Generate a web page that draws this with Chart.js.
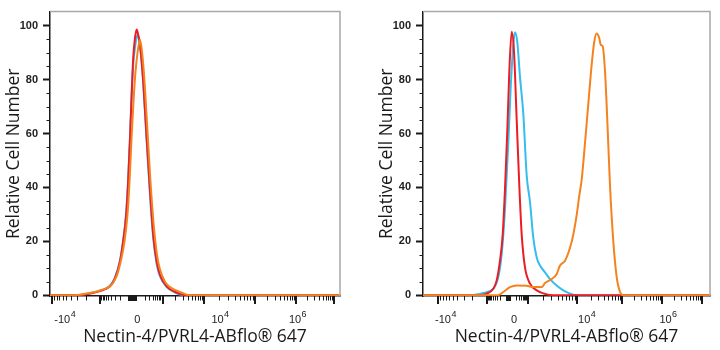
<!DOCTYPE html>
<html>
<head>
<meta charset="utf-8">
<script src="https://cdn.jsdelivr.net/npm/chart.js@4/dist/chart.umd.min.js"></script>
<style>
  html, body { margin: 0; padding: 0; background: #fff; }
  #wrap { display: flex; width: 720px; height: 350px; }
  .panel { position: relative; width: 360px; height: 350px; }
</style>
</head>
<body>
<div id="wrap">
  <div class="panel"><canvas id="left"></canvas></div>
  <div class="panel"><canvas id="right"></canvas></div>
</div>
<script>
// x values are display channels on the biexponential axis, y is relative cell number
const xTitle = 'Nectin-4/PVRL4-ABflo\u00AE 647';
const yTitle = 'Relative Cell Number';

const yTicks = [0, 20, 40, 60, 80, 100];
const yMinorTicks = [5, 10, 15, 25, 30, 35, 45, 50, 55, 65, 70, 75, 85, 90, 95];

// tick labels: base and exponent ( -10^4, 0, 10^4, 10^6 )
const xTickBase = ['-10', '0', '10', '10'];
const xTickExp = ['4', '', '4', '6'];

// left panel axis
const leftRange = [0, 290];
const leftLabelPos = [14.7, 87.3, 170, 247.5];
const leftMajor = [2, 50, 113, 154, 205, 246, 284];
const leftZeroBand = [78, 87];

// right panel axis
const rightRange = [0, 287];
const rightLabelPos = [22.5, 91, 163.7, 245];
const rightMajor = [15, 64, 105, 154, 199, 239, 279];
const rightZeroBand = [83, 88];

// left panel: all three overlap
const leftRed = [[0,0],[30,0],[40,0.6],[50,1.5],[60,3.3],[65,6.2],[70,12.5],[73,19.5],[76,29],[78,41],[80,58],[81.7,75],[83.2,88],[85,95.5],[86.7,98.7],[88,97],[90,93],[93.3,79],[96.7,58],[100,39],[103.3,22],[106.7,12.5],[110,7.5],[116.7,3.3],[126.7,1],[136,0],[290,0]];
const leftBlue = [[0,0],[28,0],[38,0.6],[50,1.7],[60,3.5],[65,6.6],[70,13],[73,20],[76,30],[78,42],[80,59],[81.7,75],[83.3,86],[85,92],[86.5,95.5],[87.7,96.6],[89,95],[91,89],[93.5,77],[96.7,57],[100,37],[103.3,21],[106.7,11.5],[110,7],[116.7,3],[125,1],[134,0],[290,0]];
const leftOrange = [[0,0],[25,0],[35,0.5],[45,1.2],[52,2],[60,3.3],[66,6.5],[71,13],[74.5,20],[77.5,30],[79.5,42],[81.5,58],[83.5,72],[85.5,83],[87.5,90],[89,93.5],[90,94.8],[91.5,92],[94,82],[97,64],[100,45],[103.5,27],[107,15],[110,9.5],[115,5],[120,3],[130,1.2],[140,0],[290,0]];

// right panel
const rightRed = [[0,0],[52,0],[63.7,0.6],[70.3,2.4],[73.7,5.5],[77,12.8],[79.7,22.5],[82,39.5],[84.3,61],[86.3,83],[88.7,97.8],[91,90.5],[93.7,65],[96.3,40.7],[98.7,22.5],[102,10.3],[107,4.3],[113.7,1.8],[123.7,0.3],[130,0],[287,0]];
const rightBlue = [[0,0],[48,0],[60.3,0.8],[70.3,2.4],[75.3,6.7],[78.7,15.2],[82,32],[85.3,56.5],[87.7,77],[90.3,93],[92,97.6],[94.3,94],[97,81],[100.3,67.4],[103.7,44.4],[107,34.6],[110.3,21.3],[113.7,14],[117,11],[122,8.5],[127,6],[133.7,3.6],[140.3,1.8],[147,0.6],[153.7,0],[287,0]];
const rightOrange = [[0,0],[75,0],[80.3,1.2],[87,3],[93.7,3.6],[103.7,3.5],[110.3,3],[118.7,3],[122,4.5],[128.7,6],[133.7,7.9],[137,11],[142,12.8],[147,17.6],[150.3,22.5],[153.7,29.8],[156.3,37],[158.7,43],[162,56.5],[165.3,71],[168.7,85.7],[171.3,94.2],[173.7,97.2],[176.3,95.4],[177.7,93],[179.7,92.4],[182,83.2],[184.3,65],[187,40.7],[190.3,20],[193.7,6.7],[197,1.2],[200.3,0],[287,0]];

const colors = { red: '#ec1c24', blue: '#35bdee', orange: '#f5821f' };
const AXIS = '#1a1a1a';
const TICK_FAMILY = '"Liberation Sans", Arial, sans-serif';
const FONT_YTICK = { family: TICK_FAMILY, size: 11, weight: 'bold' };
const FONT_TITLE = { family: '"Open Sans", "Noto Sans", sans-serif', size: 17.5 };

const pts = arr => arr.map(([x, y]) => ({ x, y }));

function line(data, color){
  return { data: pts(data), borderColor: color, borderWidth: 2, pointRadius: 0,
           fill: false, tension: 0.3, cubicInterpolationMode: 'monotone' };
}

// log-spaced minor ticks between the majors; negative side mirrored
function minorTicks(major, band){
  const edges = major.concat(band).sort((a, b) => a - b);
  const out = [];
  for(let i = 0; i < edges.length - 1; i++){
    const a = edges[i], b = edges[i + 1];
    if(a === band[0] && b === band[1]) continue;
    for(let k = 2; k <= 9; k++){
      const f = Math.log10(k);
      out.push(b <= band[0] ? b - (b - a) * f : a + (b - a) * f);
    }
  }
  return out;
}

const flowAxes = {
  id: 'flowAxes',
  afterDraw(chart, args, opts){
    const { ctx, chartArea: a, scales: { x, y } } = chart;
    ctx.save();
    // grey frame on top and right
    ctx.strokeStyle = '#a8a8a8';
    ctx.lineWidth = 1.5;
    ctx.beginPath();
    ctx.moveTo(a.left, a.top); ctx.lineTo(a.right, a.top); ctx.lineTo(a.right, a.bottom);
    ctx.stroke();

    ctx.strokeStyle = AXIS;
    ctx.lineWidth = 1;
    yMinorTicks.forEach(v => {
      const py = Math.round(y.getPixelForValue(v)) + 0.5;
      ctx.beginPath(); ctx.moveTo(a.left - 3.5, py); ctx.lineTo(a.left, py); ctx.stroke();
    });

    const base = a.bottom;
    minorTicks(opts.major, opts.band).forEach(v => {
      const px = Math.round(x.getPixelForValue(v)) + 0.5;
      ctx.beginPath(); ctx.moveTo(px, base); ctx.lineTo(px, base + 4.5); ctx.stroke();
    });
    ctx.lineWidth = 2;
    opts.major.forEach(v => {
      const px = Math.round(x.getPixelForValue(v));
      ctx.beginPath(); ctx.moveTo(px, base); ctx.lineTo(px, base + 8); ctx.stroke();
    });
    // dense linear region around zero
    const b0 = x.getPixelForValue(opts.band[0]), b1 = x.getPixelForValue(opts.band[1]);
    ctx.fillStyle = AXIS;
    ctx.fillRect(b0, base, b1 - b0, 5);

    // x tick labels with raised exponents
    ctx.fillStyle = '#222';
    ctx.textBaseline = 'alphabetic';
    ctx.textAlign = 'left';
    opts.labelPos.forEach((v, i) => {
      ctx.font = '11px ' + TICK_FAMILY;
      const wb = ctx.measureText(xTickBase[i]).width;
      ctx.font = '9px ' + TICK_FAMILY;
      const we = xTickExp[i] ? ctx.measureText(xTickExp[i]).width : 0;
      const sx = x.getPixelForValue(v) - (wb + we) / 2;
      ctx.font = '11px ' + TICK_FAMILY;
      ctx.fillText(xTickBase[i], sx, base + 27);
      if(xTickExp[i]){
        ctx.font = '9px ' + TICK_FAMILY;
        ctx.fillText(xTickExp[i], sx + wb + 0.5, base + 21);
      }
    });
    ctx.restore();
  }
};

function makeChart(id, series, range, labelPos, major, band, yWidth, padRight, titlePad){
  return new Chart(document.getElementById(id), {
    type: 'line',
    data: { datasets: series },
    plugins: [flowAxes],
    options: {
      responsive: true,
      maintainAspectRatio: false,
      animation: false,
      layout: { padding: { left: 0, top: 6, right: padRight, bottom: 0 } },
      plugins: {
        legend: { display: false },
        tooltip: { enabled: false },
        flowAxes: { major, band, labelPos }
      },
      scales: {
        x: {
          type: 'linear', min: range[0], max: range[1],
          afterBuildTicks: s => { s.ticks = labelPos.map(v => ({ value: v })); },
          afterFit: s => { s.height = 54; },
          ticks: { display: false },
          grid: { drawOnChartArea: false, drawTicks: false },
          border: { color: AXIS, width: 1.5 },
          title: { display: true, text: xTitle, color: '#1a1a1a', font: FONT_TITLE,
                   padding: { top: 0, bottom: 2 } }
        },
        y: {
          type: 'linear', min: -0.3, max: 105.3,
          afterBuildTicks: s => { s.ticks = yTicks.map(v => ({ value: v })); },
          afterFit: s => { s.width = yWidth; },
          ticks: { padding: 5, color: '#222', font: FONT_YTICK },
          grid: { drawOnChartArea: false, tickLength: 7, tickWidth: 2, tickColor: AXIS },
          border: { color: AXIS, width: 1.5 },
          title: { display: true, text: yTitle, color: '#1a1a1a', font: FONT_TITLE,
                   padding: { top: titlePad, bottom: 0 } }
        }
      }
    }
  });
}

// first dataset is painted on top
makeChart('left',
  [line(leftOrange, colors.orange), line(leftRed, colors.red), line(leftBlue, colors.blue)],
  leftRange, leftLabelPos, leftMajor, leftZeroBand, 50, 20, 4);

makeChart('right',
  [line(rightOrange, colors.orange), line(rightRed, colors.red), line(rightBlue, colors.blue)],
  rightRange, rightLabelPos, rightMajor, rightZeroBand, 63, 10, 17);
</script>
</body>
</html>
